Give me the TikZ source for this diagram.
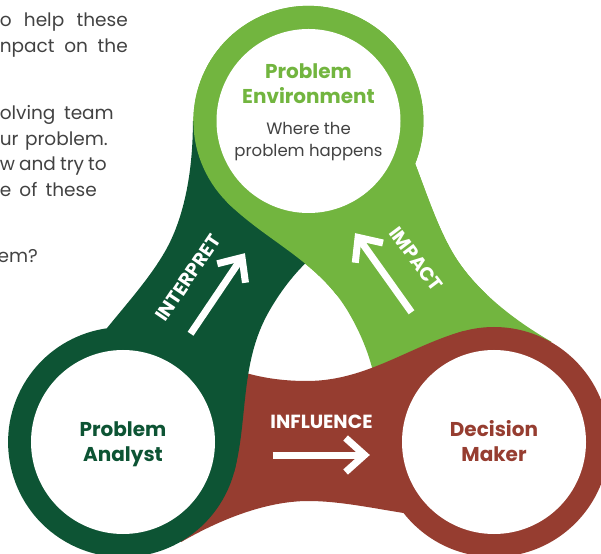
\documentclass[tikz,border=0pt]{standalone}
\usepackage{fontspec}
\setmainfont{Poppins}
\usetikzlibrary{calc}
\definecolor{dkgreen}{RGB}{13,84,52}
\definecolor{ltgreen}{RGB}{114,181,63}
\definecolor{brickred}{RGB}{150,61,48}
\definecolor{txtgray}{RGB}{66,66,66}
\begin{document}
\begin{tikzpicture}[x=1pt,y=1pt,
  lobe/.pic={
    \fill[#1] (185.5,-107) circle[radius=115];
    \fill[#1] (155.7,4.1) .. controls (102.6,-10.1) and (58.5,-46) .. (-1.5,-46)
      .. controls (-45,-46) and (-75,-36) .. (-110,-20)
      -- (-185.5,-107) -- (-127.3,-207)
      .. controls (-92.7,-186.9) and (-45,-166) .. (0,-166)
      .. controls (30,-166) and (63.5,-173) .. (95,-178)
      -- (185.5,-107) -- cycle;
  },
  wline/.style={draw=white, line width=7pt},
  warrow/.pic={
    \draw[wline] (-92,0) -- (-2,0);
    \draw[wline, line join=miter] (-19,17) -- (0,0) -- (-19,-17);
  },
  hole/.style={circle, fill=white, minimum size=184pt, inner sep=0pt},
  head/.style={anchor=base, inner sep=0pt, font=\bfseries\fontsize{20}{24}\selectfont},
  sub/.style={anchor=base, inner sep=0pt, text=txtgray, font=\fontsize{16.5}{20}\selectfont},
  flow/.style={inner sep=0pt, text=white, font=\bfseries\fontsize{19}{22}\selectfont},
  para/.style={anchor=base east, inner sep=0pt, text=txtgray, font=\fontsize{18.5}{22}\selectfont}
]
\useasboundingbox (-308.5,-218) rectangle (292.5,335);
\clip (-308.5,-218) rectangle (292.5,335);

% lobes (cyclic overlap)
\pic[rotate=120] at (0,0) {lobe=ltgreen};
\pic at (0,0) {lobe=brickred};
\pic[rotate=240] at (0,0) {lobe=dkgreen};
\begin{scope}
  \clip (-308.5,40) rectangle (292.5,335);
  \pic[rotate=120] at (0,0) {lobe=ltgreen};
\end{scope}

% inner white discs
\node[hole] (envdisk) at (0,214) {};
\node[hole] (anadisk) at (-185.5,-107) {};
\node[hole] (decdisk) at (185.5,-107) {};

% circle texts
\node[head, text=ltgreen] (env1) at (0,256.7) {Problem};
\node[head, text=ltgreen] (env2) at (0,231.7) {Environment};
\node[sub] (env3) at (0,200) {Where the};
\node[sub] (env4) at (0,178) {problem happens};
\node[head, text=dkgreen] (ana1) at (-185.5,-101.7) {Problem};
\node[head, text=dkgreen] (ana2) at (-185.5,-126.7) {Analyst};
\node[head, text=brickred] (dec1) at (185.5,-101.7) {Decision};
\node[head, text=brickred] (dec2) at (185.5,-126.7) {Maker};

% flow labels and arrows
\node[flow] (influence) at (13,-86.5) {INFLUENCE};
\node[flow, rotate=56] (interpret) at (-120.5,57) {INTERPRET};
\node[flow, rotate=-53] (impact) at (107.5,76) {IMPACT};
\coordinate (inflTip) at (56.1,-120);
\coordinate (intTip) at (-66.5,77.5);
\coordinate (impTip) at (49.6,97.6);
\pic[rotate=0] at (inflTip) {warrow};
\pic[rotate=56] at (intTip) {warrow};
\pic[rotate=125.5] at (impTip) {warrow};

% cut-off paragraph text
\node[para] (p1) at (-180.5,308) {\makebox[128pt][s]{o help these}};
\node[para] (p2) at (-180.5,282.5) {\makebox[128pt][s]{npact on the}};
\node[para] (p3) at (-194.5,215) {\makebox[114pt][s]{olving team}};
\node[para] (p4) at (-200.5,189.5) {\makebox[108pt][s]{ur problem.}};
\node[para] (p5) at (-201.5,164) {\makebox[107pt][s]{w and try to}};
\node[para] (p6) at (-211.5,138.5) {\makebox[97pt][s]{e of these}};
\node[para] (p7) at (-270.5,72) {em?};
\end{tikzpicture}
\end{document}
